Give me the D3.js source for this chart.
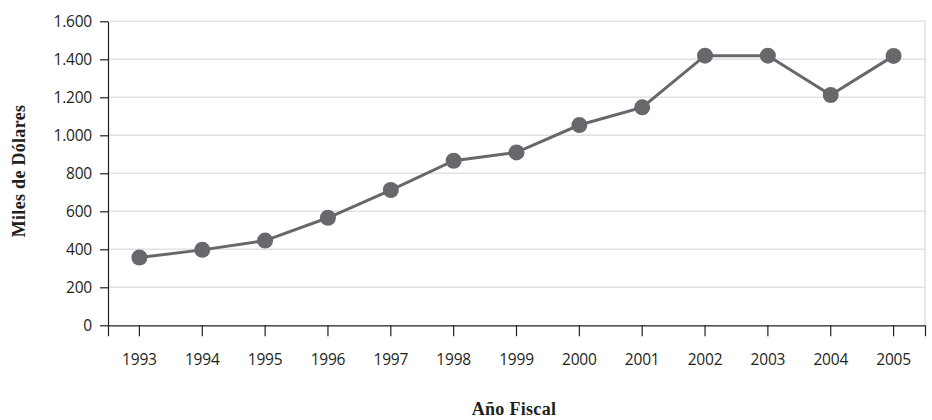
<!DOCTYPE html>
<html>
<head>
<meta charset="utf-8">
<script src="https://cdn.jsdelivr.net/npm/d3@7"></script>
<style>
  body { margin: 0; background: #fff; }
  svg { display: block; }
  .tick text { font-family: "Open Sans", sans-serif; font-size: 15.5px; letter-spacing: -0.2px; fill: #231f20; }
  .axis-title { font-family: "Liberation Serif", "DejaVu Serif", serif; font-weight: bold; font-size: 18px; letter-spacing: 0.3px; fill: #231f20; }
</style>
</head>
<body>
<div id="chart"></div>
<script>
// data
const years = ['1993', '1994', '1995', '1996', '1997', '1998', '1999', '2000', '2001', '2002', '2003', '2004', '2005'];
const values = [357, 397, 446, 566, 712, 866, 910, 1054, 1147, 1419, 1419, 1212, 1418];
const yTicks = [0, 200, 400, 600, 800, 1000, 1200, 1400, 1600];

const w = 932, h = 420;
const padLeft = 108, padRight = 925, padTop = 21.3, padBottom = 325.3;

const svg = d3.select('#chart').append('svg')
  .attr('width', w)
  .attr('height', h);

const x = d3.scaleBand().domain(years).range([padLeft, padRight]);
const y = d3.scaleLinear().domain([0, 1600]).range([padBottom, padTop]);

// gridlines
svg.append('g')
  .selectAll('line')
  .data(yTicks.slice(1))
  .enter()
  .append('line')
  .attr('x1', padLeft)
  .attr('x2', padRight)
  .attr('y1', d => y(d))
  .attr('y2', d => y(d))
  .attr('stroke', '#e1e1e1')
  .attr('stroke-width', 1.5);

// right border
svg.append('line')
  .attr('x1', padRight).attr('x2', padRight)
  .attr('y1', padTop).attr('y2', padBottom)
  .attr('stroke', '#e1e1e1')
  .attr('stroke-width', 1.5);

// y axis
const yAxis = svg.append('g')
  .attr('transform', `translate(${padLeft},0)`)
  .call(d3.axisLeft(y).tickValues(yTicks).tickSize(8).tickSizeOuter(0).tickPadding(8)
    .tickFormat(d => d3.format(',')(d).replace(/,/g, '.')));
yAxis.select('.domain').attr('stroke', '#231f20').attr('stroke-width', 1.2);
yAxis.selectAll('.tick line').attr('stroke', '#231f20').attr('stroke-width', 1.2);

// x axis
const xAxis = svg.append('g')
  .attr('transform', `translate(0,${padBottom})`)
  .call(d3.axisBottom(x).tickSize(11).tickSizeOuter(11).tickPadding(18));
xAxis.select('.domain').attr('stroke', '#231f20').attr('stroke-width', 1.2);
xAxis.selectAll('.tick line').attr('stroke', '#231f20').attr('stroke-width', 1.2);

// line
const cx = d => x(d) + x.bandwidth() / 2;
svg.append('path')
  .datum(years)
  .attr('fill', 'none')
  .attr('stroke', '#68676b')
  .attr('stroke-width', 3)
  .attr('d', d3.line().x(d => cx(d)).y((d, i) => y(values[i])));

svg.append('g')
  .selectAll('circle')
  .data(years)
  .enter()
  .append('circle')
  .attr('cx', d => cx(d))
  .attr('cy', (d, i) => y(values[i]))
  .attr('r', 8)
  .attr('fill', '#68676b');

// titles
svg.append('text')
  .attr('class', 'axis-title')
  .attr('x', 514)
  .attr('y', 415)
  .attr('text-anchor', 'middle')
  .text('Año Fiscal');

svg.append('text')
  .attr('class', 'axis-title')
  .attr('transform', 'rotate(-90)')
  .attr('x', -171)
  .attr('y', 25)
  .attr('text-anchor', 'middle')
  .text('Miles de Dólares');
</script>
</body>
</html>
